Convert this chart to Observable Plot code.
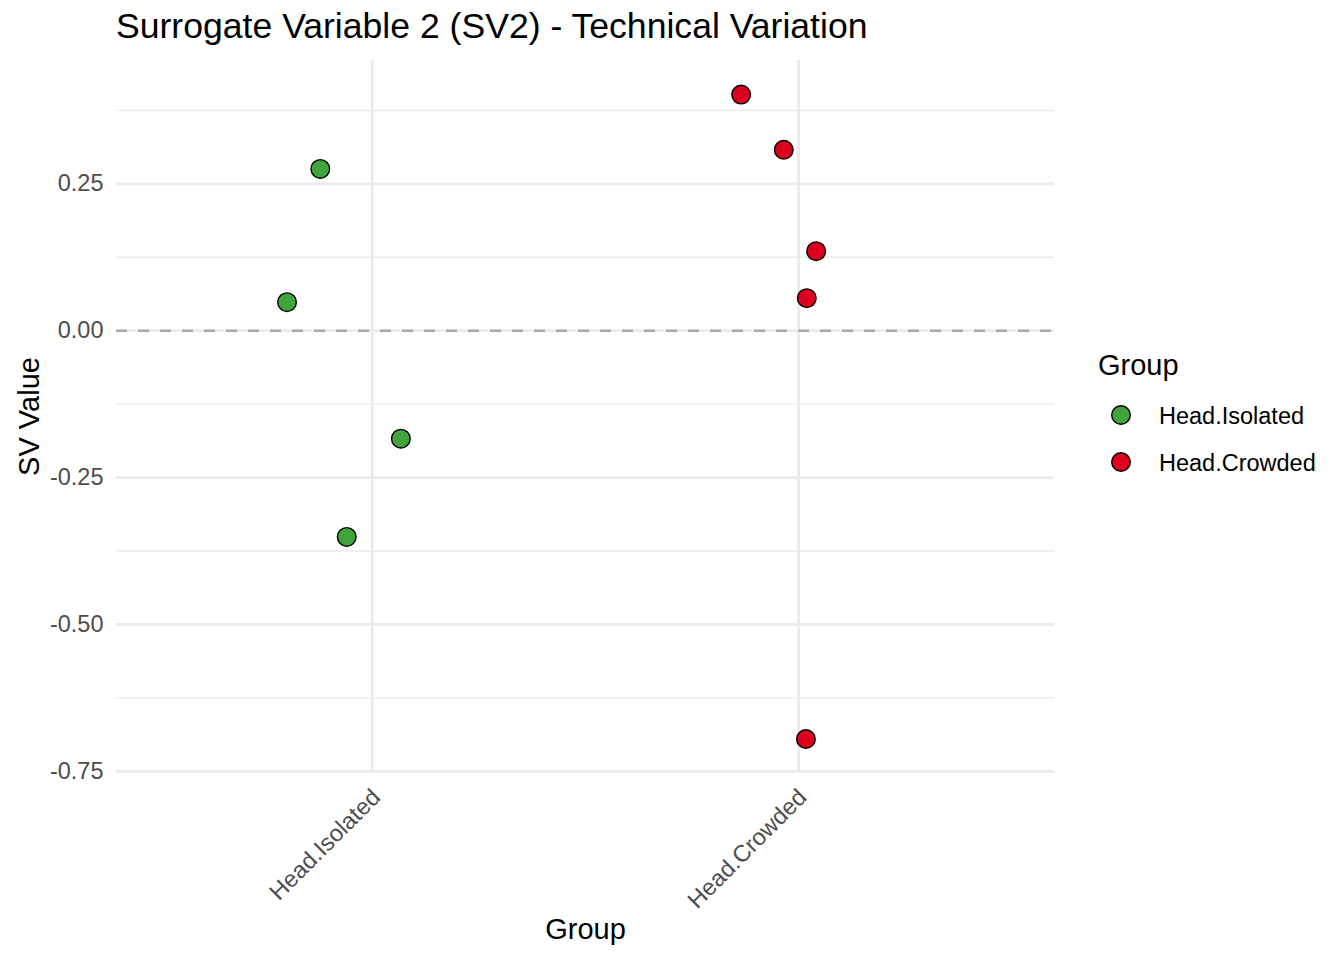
<!DOCTYPE html>
<html>
<head>
<meta charset="utf-8">
<script src="https://cdn.jsdelivr.net/npm/d3@7"></script>
<script src="https://cdn.jsdelivr.net/npm/@observablehq/plot@0.6"></script>
<style>
  html, body { margin: 0; padding: 0; background: #fff; }
  #wrap { position: relative; width: 1344px; height: 960px; font-family: "Liberation Sans", Arial, Helvetica, sans-serif; }
  #title { position: absolute; left: 116px; top: 9px; font-size: 35.6px; line-height: 35px; color: #000; white-space: nowrap; }
  #chart { position: absolute; left: 0; top: 56px; }
  #legend { position: absolute; left: 1098px; top: 351px; color: #000; }
  #legend .lt { font-size: 29px; line-height: 29px; margin-bottom: 0; }
  #legend .item { position: absolute; left: 0; white-space: nowrap; font-size: 23.5px; line-height: 23.5px; }
  #legend .item svg { position: absolute; left: 12px; top: -1px; }
  #legend .item span { position: absolute; left: 61px; top: 0; }
</style>
</head>
<body>
<div id="wrap">
  <div id="title">Surrogate Variable 2 (SV2) - Technical Variation</div>
  <div id="chart"></div>
  <div id="legend"></div>
</div>
<script>
// ---- data ----
const groups = ["Head.Isolated", "Head.Crowded"];
const groupColors = ["#41A33B", "#DC001E"];
const sampleGroup = ["Head.Isolated", "Head.Isolated", "Head.Isolated", "Head.Isolated",
                     "Head.Crowded", "Head.Crowded", "Head.Crowded", "Head.Crowded", "Head.Crowded"];
const jitterOffset = [-0.122, -0.200, 0.067, -0.060, -0.135, -0.035, 0.041, 0.019, 0.017];
const svValue = [0.2755, 0.0486, -0.1837, -0.351, 0.402, 0.308, 0.1354, 0.0554, -0.695];
const majorTicks = [-0.75, -0.5, -0.25, 0, 0.25];
const minorTicks = [-0.625, -0.375, -0.125, 0.125, 0.375];
const yDomain = [-0.752, 0.460];
const xDomain = [-0.6, 1.6];

const points = sampleGroup.map((g, i) => ({
  group: g,
  pos: groups.indexOf(g) + jitterOffset[i],
  value: svValue[i]
}));
const groupIdx = groups.map((g, i) => i);

const font = "'Liberation Sans', Arial, Helvetica, sans-serif";

const chart = Plot.plot({
  width: 1344,
  height: 904,
  marginLeft: 116,
  marginRight: 290,
  marginTop: 4,
  marginBottom: 188,
  style: { fontFamily: font, background: "#fff", overflow: "visible" },
  x: { type: "linear", domain: xDomain },
  y: { domain: yDomain },
  color: { domain: groups, range: groupColors },
  marks: [
    // minor gridlines
    Plot.ruleY(minorTicks, { stroke: "#EBEBEB", strokeWidth: 1.4 }),
    // major gridlines
    Plot.ruleY(majorTicks, { stroke: "#EBEBEB", strokeWidth: 2.8 }),
    Plot.ruleX(groupIdx, { stroke: "#EBEBEB", strokeWidth: 2.8 }),
    // zero reference line
    Plot.ruleY([0], { stroke: "#ABABAB", strokeWidth: 2.6, strokeDasharray: "11,11" }),
    // points
    Plot.dot(points, { x: "pos", y: "value", fill: "group", stroke: "#000", strokeWidth: 1.4, r: 9.3 }),
    // axes
    Plot.axisY(majorTicks, {
      tickSize: 0, tickPadding: 13, fontSize: 23.5, fill: "#4D4D4D",
      tickFormat: d => d.toFixed(2).replace("\u2212", "-"), label: null
    }),
    Plot.axisX(groupIdx, {
      tickSize: 0, tickPadding: 10, dx: 4, dy: 11, fontSize: 23.5, fill: "#4D4D4D",
      tickRotate: -45, tickFormat: i => groups[i], label: null
    }),
    // axis titles
    Plot.text(["SV Value"], {
      frameAnchor: "left", dx: -87, rotate: -90, fontSize: 29, fill: "#000",
      textAnchor: "middle", lineAnchor: "middle"
    }),
    Plot.text(["Group"], {
      frameAnchor: "bottom", dy: 166, fontSize: 29, fill: "#000",
      textAnchor: "middle", lineAnchor: "bottom"
    })
  ]
});
document.getElementById("chart").appendChild(chart);

// legend
const leg = document.getElementById("legend");
const lt = document.createElement("div");
lt.className = "lt";
lt.textContent = "Group";
leg.appendChild(lt);
const itemTops = [54, 101];
groups.forEach((g, i) => {
  const it = document.createElement("div");
  it.className = "item";
  it.style.top = itemTops[i] + "px";
  it.innerHTML = `<svg width="22" height="22"><circle cx="11" cy="11" r="9.3" fill="${groupColors[i]}" stroke="#000" stroke-width="1.4"/></svg><span>${g}</span>`;
  leg.appendChild(it);
});
</script>
</body>
</html>
